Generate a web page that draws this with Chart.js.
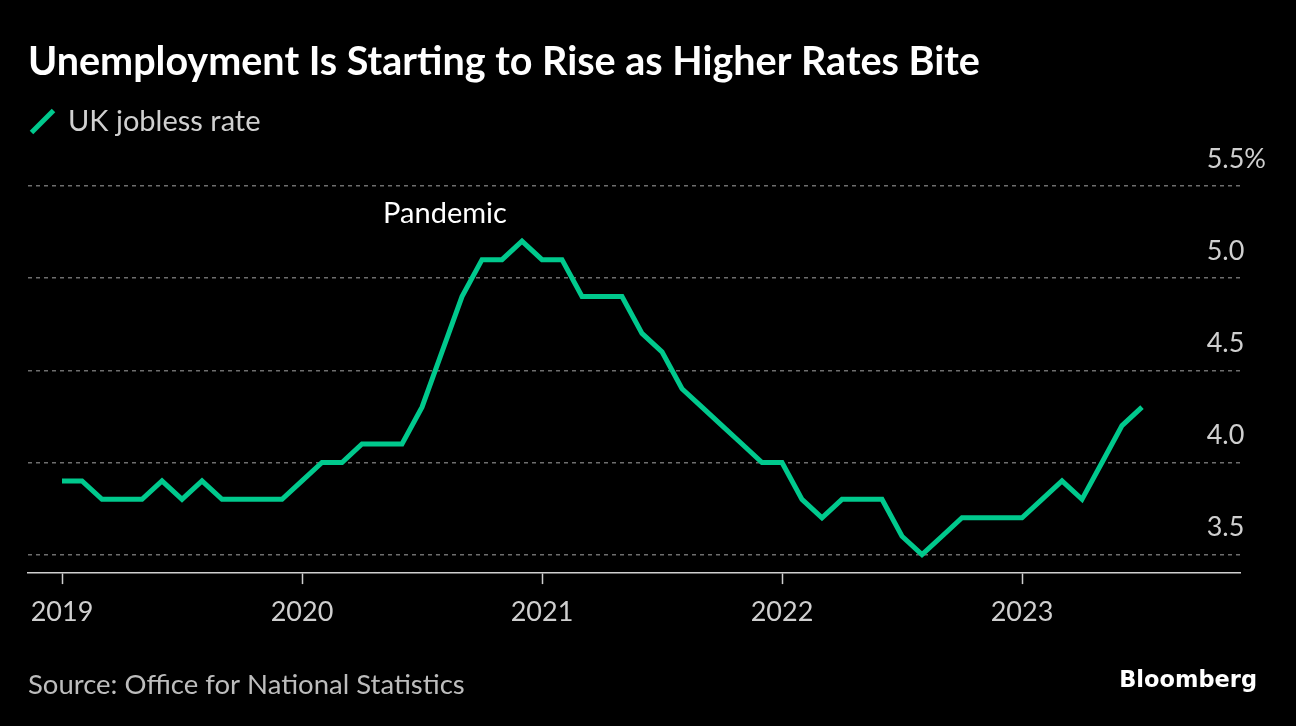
<!DOCTYPE html>
<html>
<head>
<meta charset="utf-8">
<script src="https://cdn.jsdelivr.net/npm/chart.js@4.4.1/dist/chart.umd.min.js"></script>
<style>
  html, body { margin: 0; padding: 0; background: #000; }
  #wrap { position: relative; width: 1296px; height: 726px; }
  canvas { display: block; }
</style>
</head>
<body>
<div id="wrap"><canvas id="c" width="1296" height="726"></canvas></div>
<script>
// ---- Data ----
const chartTitle = 'Unemployment Is Starting to Rise as Higher Rates Bite';
const seriesName = 'UK jobless rate';
const sourceText = 'Source: Office for National Statistics';
const brandText = 'Bloomberg';
const annotationText = 'Pandemic';

// monthly observations, Jan 2019 .. Jul 2023
const monthIndex = [
  0,1,2,3,4,5,6,7,8,9,10,11,
  12,13,14,15,16,17,18,19,20,21,22,23,
  24,25,26,27,28,29,30,31,32,33,34,35,
  36,37,38,39,40,41,42,43,44,45,46,47,
  48,49,50,51,52,53,54
];
const joblessRate = [
  3.9,3.9,3.8,3.8,3.8,3.9,3.8,3.9,3.8,3.8,3.8,3.8,
  3.9,4.0,4.0,4.1,4.1,4.1,4.3,4.6,4.9,5.1,5.1,5.2,
  5.1,5.1,4.9,4.9,4.9,4.7,4.6,4.4,4.3,4.2,4.1,4.0,
  4.0,3.8,3.7,3.8,3.8,3.8,3.6,3.5,3.6,3.7,3.7,3.7,
  3.7,3.8,3.9,3.8,4.0,4.2,4.3
];
const yearLabels = ['2019','2020','2021','2022','2023'];
const yearTickIndex = [0,12,24,36,48];
const yTickValues = [3.5,4.0,4.5,5.0,5.5];
const annotationAt = { x: 19.15, y: 5.35 };

// ---- Styles ----
const FONT = 'Lato';
const GREEN = '#00c98d';
const LABEL = '#cfcfcf';

const legendSpacer = {
  id: 'legendSpacer',
  beforeInit(chart) {
    const fit = chart.legend.fit;
    chart.legend.fit = function () {
      fit.call(this);
      this.height += 40;
    };
  }
};

const extras = {
  id: 'extras',
  afterDraw(chart) {
    const { ctx, scales: { x, y } } = chart;
    ctx.save();
    ctx.fillStyle = '#ffffff';
    ctx.font = '29px ' + FONT;
    ctx.textAlign = 'center';
    ctx.textBaseline = 'middle';
    ctx.fillText(annotationText, x.getPixelForValue(annotationAt.x), y.getPixelForValue(annotationAt.y));
    ctx.font = 'bold 22.5px "DejaVu Sans"';
    ctx.textAlign = 'right';
    ctx.textBaseline = 'alphabetic';
    ctx.fillText(brandText, 1257, 687);
    ctx.restore();
  }
};

function build() {
  new Chart(document.getElementById('c'), {
    type: 'line',
    data: {
      datasets: [{
        label: seriesName,
        data: joblessRate.map((v, i) => ({ x: monthIndex[i], y: v })),
        borderColor: GREEN,
        backgroundColor: GREEN,
        borderWidth: 5,
        pointRadius: 0,
        pointHoverRadius: 0,
        pointStyle: 'line',
        pointRotation: -45,
        tension: 0,
        fill: false,
        borderJoinStyle: 'miter',
        clip: false
      }]
    },
    options: {
      responsive: false,
      animation: false,
      devicePixelRatio: 1,
      layout: { padding: { left: 28, right: 56, top: 0, bottom: 0 } },
      scales: {
        x: {
          type: 'linear',
          min: -1.7,
          max: 58.9,
          afterBuildTicks: s => { s.ticks = yearTickIndex.map(v => ({ value: v })); },
          ticks: {
            autoSkip: false,
            maxRotation: 0,
            padding: 12,
            color: LABEL,
            font: { family: FONT, size: 27 },
            callback: (v, i) => yearLabels[i]
          },
          grid: {
            drawOnChartArea: false,
            drawTicks: true,
            tickLength: 11,
            tickColor: LABEL,
            tickWidth: 1.5
          },
          border: { display: true, color: LABEL, width: 1.5 }
        },
        y: {
          position: 'right',
          min: 3.4,
          max: 5.5,
          afterBuildTicks: s => { s.ticks = yTickValues.map(v => ({ value: v })); },
          afterFit: s => { s.width = 0; },
          ticks: {
            mirror: true,
            crossAlign: 'far',
            padding: 26,
            labelOffset: -27,
            color: LABEL,
            font: { family: FONT, size: 27 },
            callback: (v, i) => i === yTickValues.length - 1 ? v.toFixed(1) + '%' : v.toFixed(1)
          },
          grid: { color: '#6e6e6e', lineWidth: 1.5, drawTicks: false },
          border: { display: false, dash: [4, 4] }
        }
      },
      plugins: {
        title: {
          display: true,
          text: chartTitle,
          align: 'start',
          color: '#ffffff',
          font: { family: FONT, size: 39.5, weight: 'bold' },
          padding: { top: 39, bottom: 17 }
        },
        legend: {
          display: true,
          position: 'top',
          align: 'start',
          labels: {
            usePointStyle: true,
            boxWidth: 22,
            boxHeight: 22,
            padding: 3.5,
            color: '#d0d0d0',
            font: { family: FONT, size: 29 }
          }
        },
        subtitle: {
          display: true,
          text: sourceText,
          position: 'bottom',
          align: 'start',
          color: '#bdbdbd',
          font: { family: FONT, size: 27.5 },
          padding: { top: 28, bottom: 24.5 }
        },
        tooltip: { enabled: false }
      }
    },
    plugins: [legendSpacer, extras]
  });
}

Promise.all([
  document.fonts.load('bold 36px Lato'),
  document.fonts.load('27px Lato'),
  document.fonts.load('bold 22px "DejaVu Sans"')
]).then(build, build);
</script>
</body>
</html>
